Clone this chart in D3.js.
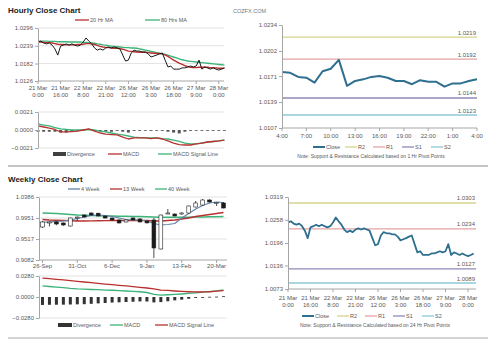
<!DOCTYPE html>
<html><head><meta charset="utf-8">
<script src="https://cdn.jsdelivr.net/npm/d3@7"></script>
<style>
body{margin:0;background:#fff;}
svg{display:block;font-family:"Liberation Sans",Arial,sans-serif;}
</style></head><body>
<svg id="c" width="491" height="340"></svg>
<script>
// ---------- DATA ----------
const hourTop = ["21 Mar","21 Mar","22 Mar","22 Mar","26 Mar","26 Mar","26 Mar","27 Mar","28 Mar"];
const hourBot = ["0:00","16:00","8:00","21:00","12:00","3:00","18:00","9:00","0:00"];
const hourTickIdx = [0,8,16,24,32,40,48,56,64];

const closeH = [1.0251,1.0254,1.0248,1.0245,1.0248,1.0241,1.0229,1.0209,1.0238,1.0241,
1.0245,1.0241,1.0245,1.0241,1.0238,1.0241,1.0251,1.0264,1.0254,1.0245,
1.0232,1.0225,1.0229,1.0225,1.0232,1.0235,1.0232,1.0235,1.0232,1.0229,
1.0209,1.0190,1.0193,1.0216,1.0225,1.0222,1.0222,1.0219,1.0219,1.0213,
1.0203,1.0206,1.0209,1.0213,1.0216,1.0193,1.0171,1.0174,1.0164,1.0164,
1.0164,1.0168,1.0168,1.0171,1.0174,1.0171,1.0174,1.0193,1.0164,1.0171,
1.0168,1.0164,1.0168,1.0164,1.0161,1.0164,1.0168];

const ma20H = [1.0251,1.0251,1.0250,1.0249,1.0249,1.0248,1.0246,1.0244,1.0243,1.0243,
1.0242,1.0242,1.0242,1.0242,1.0243,1.0243,1.0244,1.0246,1.0246,1.0245,
1.0243,1.0240,1.0237,1.0235,1.0234,1.0233,1.0232,1.0231,1.0231,1.0230,
1.0228,1.0225,1.0222,1.0221,1.0220,1.0219,1.0218,1.0218,1.0218,1.0217,
1.0216,1.0215,1.0214,1.0214,1.0213,1.0210,1.0205,1.0199,1.0193,1.0188,
1.0183,1.0179,1.0175,1.0172,1.0170,1.0169,1.0169,1.0170,1.0170,1.0170,
1.0170,1.0169,1.0169,1.0168,1.0167,1.0167,1.0167];

const ma80H = [1.0254,1.0254,1.0254,1.0254,1.0253,1.0253,1.0253,1.0252,1.0252,1.0252,
1.0252,1.0251,1.0251,1.0251,1.0251,1.0251,1.0250,1.0250,1.0249,1.0248,
1.0247,1.0245,1.0244,1.0242,1.0241,1.0239,1.0238,1.0237,1.0236,1.0235,
1.0234,1.0233,1.0233,1.0232,1.0232,1.0231,1.0229,1.0227,1.0225,1.0223,
1.0221,1.0219,1.0217,1.0215,1.0213,1.0211,1.0209,1.0206,1.0203,1.0200,
1.0197,1.0194,1.0192,1.0190,1.0189,1.0188,1.0187,1.0186,1.0185,1.0184,
1.0183,1.0182,1.0181,1.0180,1.0179,1.0178,1.0177];

// hourly MACD, one value every 4 hours
const macdH = [0.00047,0.00035,0.00023,0.00006,-0.00023,-0.00023,-0.00018,-0.00012,0.00000,0.00012,
-0.00012,-0.00035,-0.00047,-0.00053,-0.00058,-0.00082,-0.00105,-0.00093,-0.00093,-0.00093,
-0.00100,-0.00093,-0.00105,-0.00128,-0.00152,-0.00170,-0.00175,-0.00175,-0.00163,-0.00152,
-0.00140,-0.00134,-0.00128,-0.00117];
const signalH = [0.00070,0.00058,0.00047,0.00029,0.00012,0.00006,0.00000,0.00000,0.00000,0.00006,
0.00000,-0.00012,-0.00023,-0.00035,-0.00047,-0.00058,-0.00070,-0.00082,-0.00088,-0.00093,
-0.00093,-0.00093,-0.00100,-0.00105,-0.00117,-0.00134,-0.00152,-0.00163,-0.00163,-0.00152,
-0.00140,-0.00134,-0.00128,-0.00117];
const divH = [-0.0002,-0.0002,-0.0002,-0.0002,-0.0003,-0.0003,-0.0002,-0.0001,0.0000,0.0001,
-0.0001,-0.0002,-0.0002,-0.0002,-0.0001,-0.0002,-0.0003,-0.0001,-0.0001,0.0000,
-0.0001,0.0000,-0.0001,-0.0002,-0.0003,-0.0004,-0.0002,-0.0001,0.0000,0.0000,
0.0000,0.0000,0.0000,0.0000];

// 1 hr pivot chart
const pivHours = ["4:00","7:00","10:00","13:00","16:00","19:00","22:00","1:00","4:00"];
const close1h = [1.0176,1.0175,1.0170,1.0169,1.0163,1.0177,1.0180,1.0191,1.0159,1.0165,
1.0167,1.0170,1.0171,1.0169,1.0165,1.0165,1.0161,1.0166,1.0164,1.0164,
1.0158,1.0162,1.0162,1.0165,1.0167];
const pivNames = ["R2","R1","S1","S2"];
const pivColors = ["#d6d48e","#e3a3a3","#9088b8","#8cc8d6"];
const piv1hVals = [1.0219,1.0192,1.0144,1.0123];
const piv24Vals = [1.0303,1.0234,1.0127,1.0089];

// weekly
const weekLabels = ["26-Sep","31-Oct","6-Dec","9-Jan","13-Feb","20-Mar"];
const weekTickIdx = [0,5,10,15,20,25];
const wOpen  = [0.9765,0.9865,0.9869,0.9848,0.9786,0.9965,1.0013,1.0055,1.0050,0.9993,0.9951,0.9910,0.9869,0.9951,0.9931,0.9889,0.9910,0.9310,1.0040,1.0034,1.0034,1.0055,1.0179,1.0220,1.0324,1.0262,1.0262];
const wClose = [0.9869,0.9869,0.9827,0.9807,0.9951,0.9972,0.9972,1.0013,0.9993,0.9951,0.9910,0.9848,0.9910,0.9910,0.9869,0.9850,0.9331,1.0013,1.0055,0.9993,1.0055,1.0200,1.0262,1.0324,1.0283,1.0270,1.0158];
const wHigh  = [0.9889,0.9875,0.9885,0.9860,0.9960,0.9980,1.0025,1.0065,1.0060,1.0000,0.9960,0.9920,0.9920,0.9965,0.9945,0.9900,0.9951,1.0020,1.0138,1.0045,1.0070,1.0210,1.0303,1.0345,1.0340,1.0275,1.0280];
const wLow   = [0.9745,0.9775,0.9800,0.9790,0.9775,0.9889,0.9960,1.0000,0.9985,0.9940,0.9900,0.9840,0.9860,0.9900,0.9860,0.9840,0.9123,0.9300,1.0030,0.9985,1.0020,1.0045,1.0170,1.0210,1.0270,1.0200,1.0150];
const ma4W  = [0.9869,0.9865,0.9880,0.9889,0.9910,0.9941,0.9972,1.0003,1.0013,1.0003,0.9982,0.9951,0.9920,0.9910,0.9910,0.9889,0.9838,0.9807,0.9817,0.9838,0.9951,1.0045,1.0138,1.0210,1.0262,1.0283,1.0272];
const ma13W = [0.9920,0.9910,0.9905,0.9900,0.9895,0.9889,0.9889,0.9892,0.9895,0.9898,0.9900,0.9900,0.9900,0.9900,0.9902,0.9900,0.9889,0.9889,0.9900,0.9910,0.9931,0.9951,0.9982,1.0003,1.0024,1.0045,1.0065];
const ma40W = [1.0055,1.0048,1.0042,1.0034,1.0024,1.0013,1.0007,1.0003,0.9999,0.9995,0.9993,0.9989,0.9986,0.9984,0.9982,0.9978,0.9972,0.9966,0.9966,0.9966,0.9966,0.9968,0.9972,0.9972,0.9976,0.9978,0.9982];
const macdW   = [0.0147,0.0140,0.0133,0.0125,0.0115,0.0108,0.0104,0.0100,0.0097,0.0093,0.0090,0.0085,0.0080,0.0075,0.0070,0.0060,0.0035,0.0025,0.0030,0.0035,0.0040,0.0047,0.0055,0.0065,0.0073,0.0082,0.0095];
const signalW = [0.0253,0.0244,0.0236,0.0227,0.0218,0.0209,0.0200,0.0191,0.0182,0.0173,0.0164,0.0156,0.0147,0.0138,0.0129,0.0120,0.0107,0.0093,0.0087,0.0080,0.0075,0.0070,0.0067,0.0067,0.0070,0.0077,0.0085];
const divW    = [-0.0106,-0.0104,-0.0103,-0.0102,-0.0100,-0.0098,-0.0096,-0.0091,-0.0085,-0.0080,-0.0074,-0.0071,-0.0067,-0.0063,-0.0059,-0.0060,-0.0072,-0.0068,-0.0057,-0.0045,-0.0035,-0.0023,-0.0012,-0.0004,0.0003,0.0005,0.0010];

// ---------- DRAW ----------
const svg = d3.select("#c");
const TXT = "#595959", AX = "#a6a6a6", GRID = "#dcdcdc";
const f4 = d3.format(".4f");
const C_RED = "#b8312f", C_GRN = "#3db37a", C_BLK = "#1a1a1a", C_CLOSE = "#2f6f8f", C_BLUE = "#6083aa";

function text(x, y, s, size, opts = {}) {
  return svg.append("text").attr("x", x).attr("y", y).text(s)
    .attr("fill", opts.fill || TXT).style("font-size", size + "px")
    .attr("text-anchor", opts.anchor || "start").style("font-weight", opts.bold ? "bold" : "normal");
}
function grid(scale, ticks, x1, x2) {
  ticks.forEach(t => svg.append("line").attr("x1", x1).attr("x2", x2)
    .attr("y1", scale(t)).attr("y2", scale(t)).attr("stroke", GRID).attr("stroke-width", 0.8));
}
function styleAxis(g) {
  g.select(".domain").attr("stroke", AX);
  g.selectAll(".tick line").attr("stroke", AX);
  g.selectAll("text").attr("fill", TXT).style("font-size", "6px");
}
function yAxis(scale, ticks, x) {
  const g = svg.append("g").attr("transform", `translate(${x},0)`)
    .call(d3.axisLeft(scale).tickValues(ticks).tickSize(3).tickSizeOuter(0).tickPadding(2).tickFormat(f4));
  styleAxis(g);
}
function xAxisLine(scale, ticks, y, x1, x2) {
  svg.append("line").attr("x1", x1).attr("x2", x2).attr("y1", y).attr("y2", y).attr("stroke", AX);
  ticks.forEach(t => svg.append("line").attr("x1", scale(t)).attr("x2", scale(t))
    .attr("y1", y).attr("y2", y + 3).attr("stroke", AX));
}
function legend(y, items) {
  items.forEach(it => {
    if (it.type === "rect") {
      svg.append("rect").attr("x", it.x).attr("y", y - 2).attr("width", it.w).attr("height", 4).attr("fill", it.color);
    } else {
      svg.append("line").attr("x1", it.x).attr("x2", it.x + it.w).attr("y1", y).attr("y2", y)
        .attr("stroke", it.color).attr("stroke-width", it.sw || 1.3);
    }
    text(it.x + it.w + 1, y + 2, it.label, 5.5);
  });
}
function path(data, x, y, color, sw) {
  svg.append("path").datum(data)
    .attr("d", d3.line().x((d, i) => x(i)).y(d => y(d)))
    .attr("fill", "none").attr("stroke", color).attr("stroke-width", sw).attr("stroke-linejoin", "round");
}

// titles
text(8, 13, "Hourly Close Chart", 8, {bold: true, fill: "#222"});
text(233, 13, "COZFX.COM", 5.5, {fill: "#777"});
text(8, 182, "Weekly Close Chart", 8, {bold: true, fill: "#222"});

// separators
svg.append("line").attr("x1", 8).attr("x2", 488).attr("y1", 166).attr("y2", 166).attr("stroke", "#c4c4c4").attr("stroke-width", 2);
svg.append("line").attr("x1", 8).attr("x2", 488).attr("y1", 338).attr("y2", 338).attr("stroke", "#c4c4c4").attr("stroke-width", 1.5);

// ---- Panel A: hourly close ----
const xA = d3.scaleLinear().domain([0, 64]).range([38, 218.8]);
const yA = d3.scaleLinear().domain([1.0126, 1.0296]).range([81, 28]);
const ticksA = [1.0126, 1.0182, 1.0239, 1.0296];
grid(yA, ticksA.slice(1), 38, 224);
xAxisLine(xA, hourTickIdx, 81, 38, 224);
path(ma80H, xA, yA, C_GRN, 1.4);
path(ma20H, xA, yA, C_RED, 1.4);
path(closeH, xA, yA, C_BLK, 1);
yAxis(yA, ticksA, 38);
hourTickIdx.forEach((t, i) => {
  text(xA(t), 90, hourTop[i], 6, {anchor: "middle"});
  text(xA(t), 97, hourBot[i], 6, {anchor: "middle"});
});
legend(20, [
  {x: 75, w: 14, color: C_RED, label: "20 Hr MA"},
  {x: 145, w: 15, color: C_GRN, label: "80 Hrs MA"}
]);

// ---- Panel B: hourly MACD ----
const xB = i => xA(i * 2);
const yB = d3.scaleLinear().domain([-0.0021, 0.0021]).range([148, 112]);
grid(yB, [-0.0021, 0.0021], 38, 224);
svg.selectAll(null).data(divH).enter().append("rect")
  .attr("x", (d, i) => xB(i) - 1.5).attr("width", 3)
  .attr("y", d => Math.min(yB(d), yB(0))).attr("height", d => Math.max(0.8, Math.abs(yB(d) - yB(0))))
  .attr("fill", "#555");
path(signalH, xB, yB, C_GRN, 1.3);
path(macdH, xB, yB, C_RED, 1.3);
yAxis(yB, [-0.0021, 0, 0.0021], 38);
legend(154, [
  {type: "rect", x: 53, w: 13, color: "#404040", label: "Divergence"},
  {x: 108, w: 14, color: C_RED, label: "MACD"},
  {x: 158, w: 14, color: C_GRN, label: "MACD Signal Line"}
]);

// ---- Panel C: 1hr pivot ----
const xC = d3.scaleLinear().domain([0, 24]).range([282, 477]);
const yC = d3.scaleLinear().domain([1.0107, 1.0234]).range([128, 25]);
piv1hVals.forEach((v, i) => {
  svg.append("line").attr("x1", 282).attr("x2", 477).attr("y1", yC(v)).attr("y2", yC(v))
    .attr("stroke", pivColors[i]).attr("stroke-width", 1.3);
  text(476, yC(v) - 2.5, f4(v), 6, {anchor: "end"});
});
xAxisLine(xC, d3.range(0, 25, 3), 128, 282, 477);
path(close1h, xC, yC, C_CLOSE, 2);
yAxis(yC, [1.0107, 1.0139, 1.0171, 1.0202, 1.0234], 282);
pivHours.forEach((s, i) => text(xC(i * 3), 138, s, 6, {anchor: "middle"}));
legend(147, [
  {x: 313, w: 12, color: C_CLOSE, label: "Close", sw: 2},
  {x: 345, w: 12, color: pivColors[0], label: "R2"},
  {x: 373, w: 12, color: pivColors[1], label: "R1"},
  {x: 402, w: 12, color: pivColors[2], label: "S1"},
  {x: 431, w: 12, color: pivColors[3], label: "S2"}
]);
text(371, 158, "Note: Support & Resistance Calculated based on 1 Hr Pivot Points", 5, {anchor: "middle"});

// ---- Panel D: weekly candles ----
const xD = d3.scaleBand().domain(d3.range(27)).range([39, 227]);
const cx = i => xD(i) + xD.bandwidth() / 2;
const yD = d3.scaleLinear().domain([0.9082, 1.0386]).range([260, 197]);
const ticksD = [0.9082, 0.9517, 0.9951, 1.0386];
grid(yD, ticksD.slice(1), 39, 227);
xAxisLine(cx, weekTickIdx, 260, 39, 227);
path(ma40W, cx, yD, C_GRN, 1.5);
path(ma13W, cx, yD, C_RED, 1.4);
path(ma4W, cx, yD, C_BLUE, 1.2);
const bw = 3.8;
wOpen.forEach((o, i) => {
  const c = wClose[i];
  svg.append("line").attr("x1", cx(i)).attr("x2", cx(i)).attr("y1", yD(wHigh[i])).attr("y2", yD(wLow[i]))
    .attr("stroke", "#222").attr("stroke-width", 0.8);
  const top = yD(Math.max(o, c)), bot = yD(Math.min(o, c));
  svg.append("rect").attr("x", cx(i) - bw / 2).attr("width", bw)
    .attr("y", top).attr("height", Math.max(1, bot - top))
    .attr("fill", c >= o ? "#fff" : "#1a1a1a").attr("stroke", "#222").attr("stroke-width", 0.6);
});
yAxis(yD, ticksD, 39);
weekTickIdx.forEach((t, i) => text(cx(t), 268, weekLabels[i], 6, {anchor: "middle"}));
legend(189, [
  {x: 68, w: 12, color: C_BLUE, label: "4 Week"},
  {x: 110, w: 12, color: C_RED, label: "13 Week"},
  {x: 155, w: 12, color: C_GRN, label: "40 Week"}
]);

// ---- Panel E: weekly MACD ----
const yE = d3.scaleLinear().domain([-0.028, 0.028]).range([318, 276]);
grid(yE, [-0.028, 0.028], 39, 227);
svg.selectAll(null).data(divW).enter().append("rect")
  .attr("x", (d, i) => cx(i) - 1.5).attr("width", 3)
  .attr("y", d => Math.min(yE(d), yE(0))).attr("height", d => Math.max(0.8, Math.abs(yE(d) - yE(0))))
  .attr("fill", "#333");
path(macdW, cx, yE, C_GRN, 1.3);
path(signalW, cx, yE, C_RED, 1.3);
yAxis(yE, [-0.028, 0, 0.028], 39);
legend(325, [
  {type: "rect", x: 58, w: 14, color: "#333", label: "Divergence"},
  {x: 110, w: 13, color: C_GRN, label: "MACD"},
  {x: 155, w: 13, color: C_RED, label: "MACD Signal Line"}
]);

// ---- Panel F: 24hr pivot ----
const xF = d3.scaleLinear().domain([0, 64]).range([288, 468]);
const yF = d3.scaleLinear().domain([1.0073, 1.0319]).range([289, 197]);
piv24Vals.forEach((v, i) => {
  svg.append("line").attr("x1", 288).attr("x2", 476).attr("y1", yF(v)).attr("y2", yF(v))
    .attr("stroke", pivColors[i]).attr("stroke-width", 1.3);
  text(475, yF(v) - 2.5, f4(v), 6, {anchor: "end"});
});
xAxisLine(xF, hourTickIdx, 289, 288, 476);
path(closeH, xF, yF, C_CLOSE, 1.8);
yAxis(yF, [1.0073, 1.0136, 1.0196, 1.0258, 1.0319], 288);
hourTickIdx.forEach((t, i) => {
  text(xF(t), 299.5, hourTop[i], 6, {anchor: "middle"});
  text(xF(t), 306.5, hourBot[i], 6, {anchor: "middle"});
});
legend(316, [
  {x: 302, w: 12, color: C_CLOSE, label: "Close", sw: 2},
  {x: 337, w: 12, color: pivColors[0], label: "R2"},
  {x: 365, w: 12, color: pivColors[1], label: "R1"},
  {x: 393, w: 12, color: pivColors[2], label: "S1"},
  {x: 422, w: 12, color: pivColors[3], label: "S2"}
]);
text(375, 327, "Note: Support & Resistance Calculated based on 24 Hr Pivot Points", 5, {anchor: "middle"});
</script></body></html>
